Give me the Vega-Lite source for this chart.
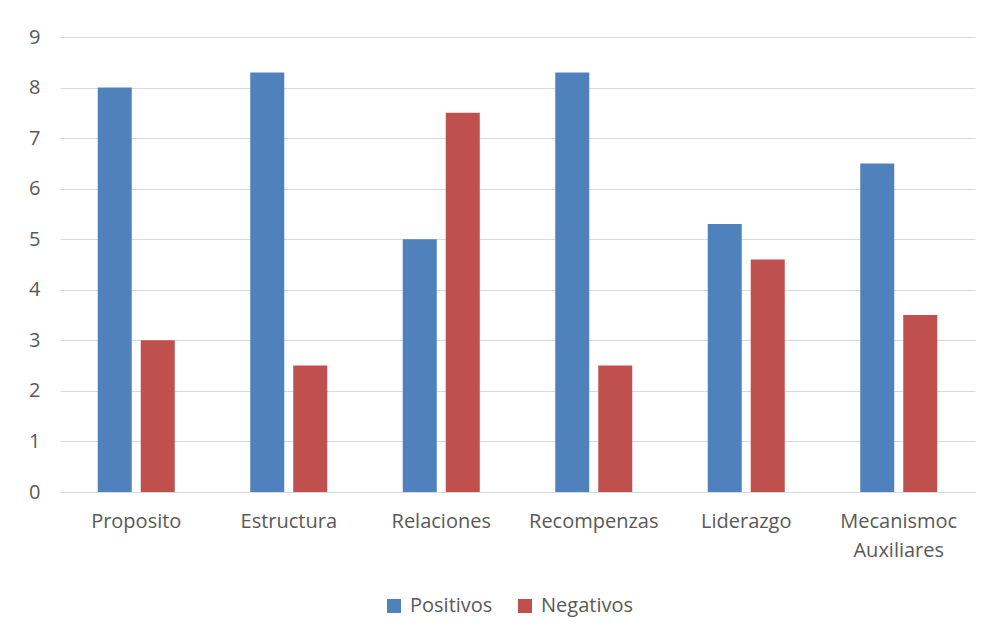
{
  "$schema": "https://vega.github.io/schema/vega-lite/v6.json",
  "autosize": "none",
  "width": 915,
  "height": 455,
  "padding": {"left": 60, "top": 37, "right": 19, "bottom": 147},
  "background": "white",
  "data": {
    "values": [
      {"cat": "Proposito", "serie": "Positivos", "v": 8},
      {"cat": "Proposito", "serie": "Negativos", "v": 3},
      {"cat": "Estructura", "serie": "Positivos", "v": 8.3},
      {"cat": "Estructura", "serie": "Negativos", "v": 2.5},
      {"cat": "Relaciones", "serie": "Positivos", "v": 5},
      {"cat": "Relaciones", "serie": "Negativos", "v": 7.5},
      {"cat": "Recompenzas", "serie": "Positivos", "v": 8.3},
      {"cat": "Recompenzas", "serie": "Negativos", "v": 2.5},
      {"cat": "Liderazgo", "serie": "Positivos", "v": 5.3},
      {"cat": "Liderazgo", "serie": "Negativos", "v": 4.6},
      {"cat": "Mecanismoc Auxiliares", "serie": "Positivos", "v": 6.5},
      {"cat": "Mecanismoc Auxiliares", "serie": "Negativos", "v": 3.5}
    ]
  },
  "mark": {"type": "bar"},
  "encoding": {
    "x": {
      "field": "cat",
      "type": "nominal",
      "sort": null,
      "scale": {"paddingInner": 0.495, "paddingOuter": 0.2475},
      "axis": {
        "title": null,
        "labelAngle": 0,
        "ticks": false,
        "domainColor": "#D9D9D9",
        "domainWidth": 1,
        "labelPadding": 19,
        "labelFont": "Open Sans",
        "labelFontSize": 20,
        "labelColor": "#595959",
        "labelLineHeight": 29,
        "labelBaseline": "top",
        "labelExpr": "datum.label == 'Mecanismoc Auxiliares' ? ['Mecanismoc', 'Auxiliares'] : datum.label"
      }
    },
    "xOffset": {
      "field": "serie",
      "type": "nominal",
      "sort": ["Positivos", "Negativos"],
      "scale": {"paddingInner": 0.209, "paddingOuter": 0}
    },
    "y": {
      "field": "v",
      "type": "quantitative",
      "scale": {"domain": [0, 9], "nice": false},
      "axis": {
        "title": null,
        "values": [0, 1, 2, 3, 4, 5, 6, 7, 8, 9],
        "domain": false,
        "ticks": false,
        "gridColor": "#D9D9D9",
        "gridWidth": 1,
        "labelPadding": 20,
        "labelFont": "Open Sans",
        "labelFontSize": 20,
        "labelColor": "#595959"
      }
    },
    "color": {
      "field": "serie",
      "type": "nominal",
      "sort": ["Positivos", "Negativos"],
      "scale": {"domain": ["Positivos", "Negativos"], "range": ["#4F81BD", "#C0504D"]},
      "legend": {
        "title": null,
        "orient": "none",
        "legendX": 324,
        "legendY": 559,
        "direction": "horizontal",
        "symbolType": "square",
        "symbolSize": 196,
        "symbolStrokeWidth": 0,
        "labelFont": "Open Sans",
        "labelFontSize": 20,
        "labelColor": "#595959",
        "labelOffset": 6,
        "columnPadding": 22
      }
    }
  },
  "config": {
    "view": {"stroke": null}
  }
}
